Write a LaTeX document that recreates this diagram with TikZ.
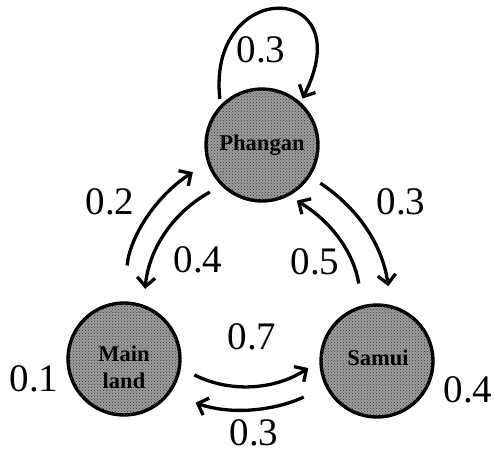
\documentclass[tikz,border=0pt]{standalone}
\usepackage{fontspec}
\setmainfont{Liberation Serif}
\usetikzlibrary{arrows.meta,patterns}

\tikzset{
  state/.style={circle, draw=black, line width=3.4pt, minimum size=112pt, inner sep=0pt,
    fill=black!38, postaction={pattern=crosshatch dots, pattern color=black!80}},
  statetext/.style={font=\bfseries\fontsize{22.5}{27}\selectfont, inner sep=0pt, text=black},
  prob/.style={font=\fontsize{39}{39}\selectfont, inner sep=0pt},
  trans/.style={line width=3.3pt, -{Straight Barb[length=9pt,width=18pt,line width=3.3pt]}}
}

\begin{document}
\begin{tikzpicture}[x=1pt,y=-1pt]
  \useasboundingbox (0,0) rectangle (494,464);

  % the three states
  \node[state, statetext] (P) at (262,145) {Phangan};
  \node[state] (M) at (124,359) {};
  \node[state] (S) at (377,361) {};
  \node[statetext, align=center] (Mtext) at (124,367) {Main\\land};
  \node[statetext] (Stext) at (378,358) {Samui};

  % self-loop on Phangan
  \draw[trans, shorten <=6pt, shorten >=4pt]
    (P.136) .. controls +(-14,-128) and +(62,-122) .. (P.48);
  \node[prob] (lPP) at (261,50) {0.3};

  % Phangan and Mainland
  \draw[trans, shorten <=36pt, shorten >=17pt] (M.90) to[bend left=26] (P.198);
  \draw[trans, shorten <=13pt, shorten >=16pt] (P.225) to[bend right=28] (M.70);
  \node[prob] (lMP) at (110,202) {0.2};
  \node[prob] (lPM) at (198,260) {0.4};

  % Phangan and Samui
  \draw[trans, shorten <=12pt, shorten >=19pt] (P.-33) to[bend left=24] (S.76);
  \draw[trans, shorten <=22pt, shorten >=9pt] (S.105) to[bend right=25] (P.-62);
  \node[prob] (lPS) at (401,202) {0.3};
  \node[prob] (lSP) at (315,262) {0.5};

  % Mainland and Samui
  \draw[trans, shorten <=15pt, shorten >=13pt] (M.-9) to[bend right=30] (S.180);
  \draw[trans, shorten <=24pt, shorten >=27pt] (S.207) to[bend left=22] (M.-37);
  \node[prob] (lMS) at (252,337) {0.7};
  \node[prob] (lSM) at (254,433) {0.3};

  % staying put
  \node[prob] (lMM) at (34,379) {0.1};
  \node[prob] (lSS) at (468,390) {0.4};
\end{tikzpicture}
\end{document}
